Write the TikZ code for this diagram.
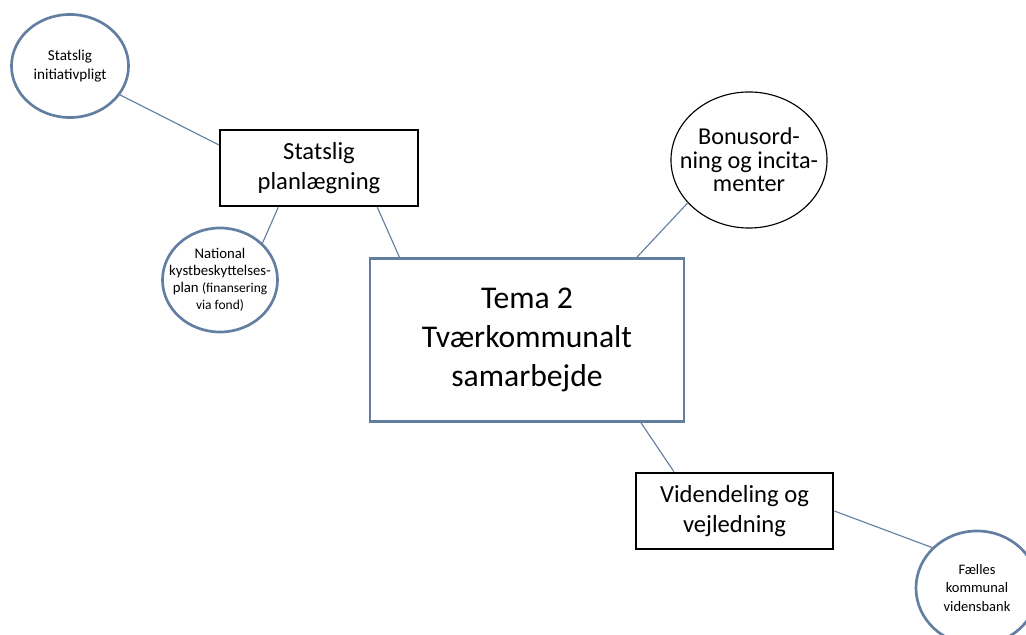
\documentclass[tikz,border=0pt]{standalone}
\usepackage{fontspec}
\setmainfont{Carlito}
\usetikzlibrary{shapes.geometric}
\definecolor{edgeblue}{RGB}{98,126,160}

\begin{document}
\begin{tikzpicture}[x=0.025cm, y=-0.025cm,
    bubble/.style={ellipse, draw=edgeblue, line width=1.9pt, inner sep=0pt},
    box/.style={rectangle, draw=black, line width=1.9pt, align=center, font=\fontsize{17.5}{21}\selectfont},
    link/.style={draw=edgeblue, line width=0.8pt},
    small/.style={align=center, font=\fontsize{10.8}{13}\selectfont}]
        \useasboundingbox (0,0) rectangle (1026,635);

        % themes
        \node[box, draw=edgeblue, minimum width=7.85cm, minimum height=4.075cm,
              font=\fontsize{22.5}{28}\selectfont] (tema) at (527,340) {Tema 2\\Tværkommunalt\\samarbejde};
        \node[box, minimum width=4.95cm, minimum height=1.9cm] (plan) at (319,168) {Statslig\\planlægning};
        \node[box, minimum width=4.925cm, minimum height=1.9cm] (viden) at (734.5,511) {Videndeling og\\vejledning};

        % bubbles
        \node[bubble, minimum width=2.925cm, minimum height=2.575cm] (init) at (70,66) {};
        \node[small] (init-t) at (init) {Statslig\\initiativpligt};
        \node[bubble, minimum width=2.875cm, minimum height=2.6cm] (natl) at (220,280) {};
        \node[small, font=\fontsize{10.5}{12.2}\selectfont] (natl-t) at (natl)
            {National\\kystbeskyttelses-\\plan {\fontsize{9.6}{12}\selectfont(finansering}\\{\fontsize{9.6}{12}\selectfont via fond)}};
        \node[bubble, draw=black, line width=0.8pt, minimum width=3.9cm, minimum height=3.4cm] (bonus) at (749,160) {};
        \node[align=center, font=\fontsize{17.2}{16.6}\selectfont] (bonus-t) at (bonus) {Bonusord-\\ning og incita-\\menter};
        \node[bubble, minimum width=3.05cm, minimum height=2.85cm] (faelles) at (977,588) {};
        \node[small, font=\fontsize{10.3}{13}\selectfont] (faelles-t) at (faelles) {Fælles\\kommunal\\vidensbank};

        \draw[link] (init.-30) -- (plan.167);
        \draw[link] (plan.-136.5) -- (natl.41);
        \draw[link] (plan.-34.5) -- (tema.147);
        \draw[link] (bonus.-145) -- (tema.37);
        \draw[link] (tema.-36.3) -- (viden.147.4);
        \draw[link] (viden.east) -- (faelles.138);
    \end{tikzpicture}
\end{document}
